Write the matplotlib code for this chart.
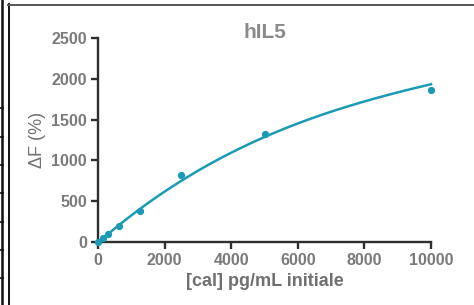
import numpy as np
import matplotlib
matplotlib.use("Agg")
import matplotlib.pyplot as plt
from matplotlib.lines import Line2D

# data
conc = [0, 156, 312, 625, 1250, 2500, 5000, 10000]
delta_f = [0, 53, 98, 196, 380, 817, 1323, 1862]
# fitted curve values
fit_x = [0, 1250, 2500, 5000, 7500, 10000]
fit_y = [0, 385, 760, 1290, 1657, 1935]
x_ticks = [0, 2000, 4000, 6000, 8000, 10000]
y_ticks = [0, 500, 1000, 1500, 2000, 2500]
title = "hIL5"
xlabel = "[cal] pg/mL initiale"
ylabel = "ΔF (%)"

W, H = 474, 305
fig = plt.figure(figsize=(W / 100, H / 100), dpi=100)
plt.rcParams['font.family'] = ['Liberation Sans', 'DejaVu Sans']

ax = fig.add_axes([98 / W, 1 - 242 / H, (431 - 98) / W, (242 - 38) / H])
teal = "#1a9ab4"
txt = "#7a7a7a"
spine_c = "#2e2e2e"

# smooth fit curve: least-squares cubic through the read fit values
c = np.polyfit(fit_x, fit_y, 3)
xx = np.linspace(0, 10000, 300)
yy = np.polyval(c, xx)
ax.plot(xx, yy, color=teal, lw=1.8, clip_on=False, zorder=3)
ax.plot(conc, delta_f, 'o', color=teal, ms=4.2, clip_on=False, zorder=4)

ax.set_xlim(0, 10000)
ax.set_ylim(0, 2500)
ax.set_xticks(x_ticks)
ax.set_yticks(y_ticks)
for s in ['top', 'right']:
    ax.spines[s].set_visible(False)
for s in ['left', 'bottom']:
    ax.spines[s].set_linewidth(1.7)
    ax.spines[s].set_color(spine_c)
ax.tick_params(direction='out', length=5, width=1.7, color=spine_c,
               labelcolor=txt, labelsize=11.5, pad=3)
for lab in ax.get_xticklabels() + ax.get_yticklabels():
    lab.set_fontweight('bold')

fig.text(265 / W, 1 - 32 / H, title, fontsize=15, fontweight='bold', color="#8a8a8a",
         ha='center', va='center')
fig.text(264.5 / W, 1 - 281 / H, xlabel, fontsize=13, fontweight='bold', color="#707070",
         ha='center', va='center')
fig.text(38 / W, 1 - 140 / H, ylabel, fontsize=13, color="#707070",
         ha='center', va='center', rotation=90)

# screenshot frame
def hline(x0, x1, yp, col, lw):
    fig.add_artist(Line2D([x0 / W, x1 / W], [1 - yp / H, 1 - yp / H], color=col, lw=lw))
def vline(xp, y0, y1, col, lw):
    fig.add_artist(Line2D([xp / W, xp / W], [1 - y0 / H, 1 - y1 / H], color=col, lw=lw))

vline(2, 0, H, "#111111", 1.8)
for yt in [108, 137, 165, 193, 222, 250, 278]:
    hline(0, 3, yt, "#111111", 1.2)
vline(8.5, 4, H, "#111111", 1.4)
hline(8, W, 4.5, "#555555", 1.4)

fig.savefig("out.png", dpi=100)
